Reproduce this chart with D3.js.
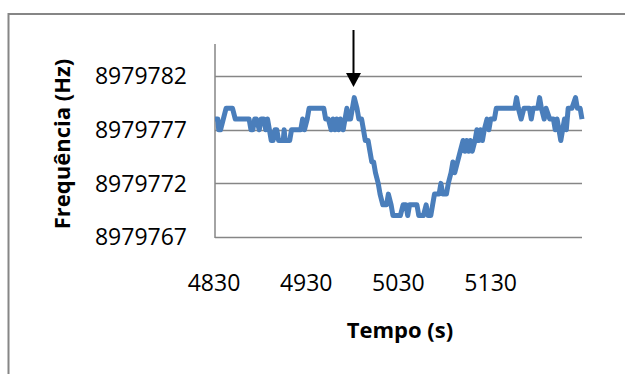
<!DOCTYPE html>
<html>
<head>
<meta charset="utf-8">
<script src="https://cdn.jsdelivr.net/npm/d3@7"></script>
<style>
  body { margin: 0; background: #fff; }
  svg { display: block; }
  .tick-label { font-family: "Open Sans", sans-serif; font-size: 23px; fill: #000; }
  .axis-title { font-family: "Open Sans", sans-serif; font-size: 22px; font-weight: bold; fill: #000; }
</style>
</head>
<body>
<div id="chart"></div>
<script>
// time (s) of each step point
const times = [
  4830, 4833, 4834, 4836, 4839, 4842, 4849, 4852, 4867, 4869,
  4871, 4873, 4875, 4878, 4880, 4883, 4885, 4887, 4889, 4891,
  4893, 4895, 4897, 4899, 4904, 4905, 4906, 4911, 4913, 4923,
  4925, 4927, 4930, 4932, 4948, 4950, 4953, 4956, 4958, 4960,
  4962, 4964, 4966, 4969, 4971, 4973, 4975, 4977, 4981, 4984,
  4986, 4989, 4991, 4993, 4996, 4998, 5000, 5002, 5004, 5007,
  5009, 5012, 5016, 5018, 5021, 5023, 5031, 5034, 5037, 5039,
  5041, 5049, 5051, 5056, 5059, 5061, 5064, 5066, 5068, 5073,
  5075, 5077, 5081, 5083, 5086, 5088, 5090, 5093, 5096, 5099,
  5101, 5103, 5105, 5107, 5109, 5112, 5114, 5116, 5118, 5120,
  5122, 5125, 5127, 5129, 5133, 5135, 5155, 5157, 5159, 5162,
  5165, 5171, 5173, 5175, 5180, 5182, 5184, 5187, 5189, 5193,
  5197, 5199, 5201, 5203, 5205, 5207, 5209, 5211, 5213, 5217,
  5221, 5223, 5226, 5228
];

// frequency (Hz) at each of those times
const freqs = [
  8979778, 8979778, 8979777, 8979777, 8979778, 8979779, 8979779, 8979778, 8979778, 8979777,
  8979777, 8979778, 8979778, 8979777, 8979778, 8979778, 8979777, 8979778, 8979777, 8979776,
  8979776, 8979777, 8979777, 8979776, 8979776, 8979777, 8979776, 8979776, 8979777, 8979777,
  8979778, 8979777, 8979778, 8979779, 8979779, 8979778, 8979778, 8979777, 8979778, 8979777,
  8979778, 8979777, 8979778, 8979777, 8979778, 8979779, 8979778, 8979778, 8979780, 8979779,
  8979778, 8979778, 8979777, 8979776, 8979776, 8979775, 8979774, 8979774, 8979773, 8979772,
  8979771, 8979770, 8979770, 8979771, 8979770, 8979769, 8979769, 8979770, 8979770, 8979769,
  8979770, 8979770, 8979769, 8979769, 8979770, 8979769, 8979769, 8979770, 8979771, 8979771,
  8979772, 8979771, 8979771, 8979772, 8979773, 8979774, 8979773, 8979774, 8979775, 8979776,
  8979775, 8979776, 8979775, 8979776, 8979775, 8979776, 8979777, 8979776, 8979777, 8979776,
  8979777, 8979778, 8979777, 8979778, 8979778, 8979779, 8979779, 8979780, 8979779, 8979778,
  8979779, 8979779, 8979778, 8979779, 8979779, 8979780, 8979779, 8979778, 8979779, 8979778,
  8979778, 8979777, 8979778, 8979777, 8979776, 8979777, 8979778, 8979777, 8979779, 8979779,
  8979780, 8979779, 8979779, 8979778
];

const xTicks = [4830, 4930, 5030, 5130];
const yTicks = [8979767, 8979772, 8979777, 8979782];
const xDomain = [4830, 5228];
const yDomain = [8979767, 8979785];
const markTime = 4980;   // arrow annotation
const xTitle = "Tempo (s)";
const yTitle = "Frequência (Hz)";

const width = 625, height = 374;
const plot = {left: 215, right: 582, top: 44, bottom: 237};

const svg = d3.select("#chart").append("svg")
  .attr("width", width)
  .attr("height", height);

// outer chart-area border (runs off the right and bottom)
svg.append("rect")
  .attr("x", 8.5).attr("y", 14)
  .attr("width", 700).attr("height", 500)
  .attr("fill", "none")
  .attr("stroke", "#868686")
  .attr("stroke-width", 2);

const x = d3.scaleLinear().domain(xDomain).range([plot.left, plot.right]);
const y = d3.scaleLinear().domain(yDomain).range([plot.bottom, plot.top]);

// gridlines
svg.append("g")
  .selectAll("line")
  .data(yTicks)
  .join("line")
  .attr("x1", plot.left).attr("x2", plot.right)
  .attr("y1", d => Math.round(y(d)) + 0.5)
  .attr("y2", d => Math.round(y(d)) + 0.5)
  .attr("stroke", "#868686")
  .attr("stroke-width", 1.5);

// y axis line
svg.append("line")
  .attr("x1", plot.left).attr("x2", plot.left)
  .attr("y1", plot.top).attr("y2", y(yDomain[0]) + 1)
  .attr("stroke", "#868686")
  .attr("stroke-width", 1.5);

// y tick labels
svg.append("g")
  .selectAll("text")
  .data(yTicks)
  .join("text")
  .attr("class", "tick-label")
  .attr("x", 187)
  .attr("y", d => y(d))
  .attr("dy", "0.36em")
  .attr("text-anchor", "end")
  .text(d => d);

// x tick labels
svg.append("g")
  .selectAll("text")
  .data(xTicks)
  .join("text")
  .attr("class", "tick-label")
  .attr("x", d => x(d) - 1)
  .attr("y", 291)
  .attr("text-anchor", "middle")
  .text(d => d);

// data line
const data = times.map((t, i) => ({t: t, f: freqs[i]}));
const line = d3.line()
  .x(d => x(d.t))
  .y(d => y(d.f));

svg.append("path")
  .datum(data)
  .attr("d", line)
  .attr("fill", "none")
  .attr("stroke", "#4a7ebb")
  .attr("stroke-width", 5)
  .attr("stroke-linejoin", "round");

// arrow
const ax = Math.round(x(markTime)) + 0.5;
svg.append("line")
  .attr("x1", ax).attr("x2", ax)
  .attr("y1", 30).attr("y2", 76)
  .attr("stroke", "#000")
  .attr("stroke-width", 2);
svg.append("path")
  .attr("d", `M${ax - 7.5},73 L${ax + 7.5},73 L${ax},87 Z`)
  .attr("fill", "#000");

// axis titles
svg.append("text")
  .attr("class", "axis-title")
  .attr("x", 400)
  .attr("y", 338)
  .attr("text-anchor", "middle")
  .text(xTitle);

svg.append("text")
  .attr("class", "axis-title")
  .attr("transform", "translate(70,144) rotate(-90)")
  .attr("text-anchor", "middle")
  .text(yTitle);
</script>
</body>
</html>
